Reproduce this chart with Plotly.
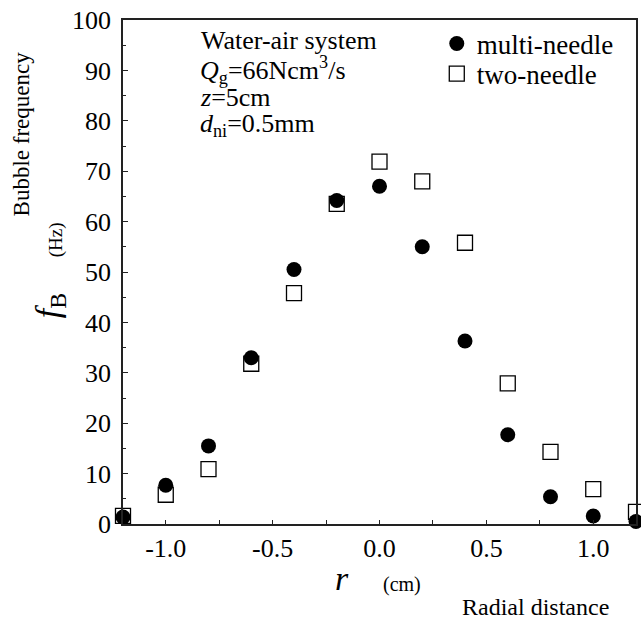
import plotly.graph_objects as go

# Radial positions (cm)
r_cm = [-1.2, -1.0, -0.8, -0.6, -0.4, -0.2, 0.0, 0.2, 0.4, 0.6, 0.8, 1.0, 1.2]

# Bubble frequency (Hz)
multi_needle = [1.4, 7.7, 15.5, 33.0, 50.5, 64.2, 67.0, 55.0, 36.3, 17.7, 5.4, 1.6, 0.5]
two_needle = [1.6, 5.8, 10.9, 31.8, 45.8, 63.5, 71.9, 68.0, 55.8, 27.9, 14.3, 6.9, 2.4]

x_tick_vals = [-1.0, -0.5, 0.0, 0.5, 1.0]
x_tick_text = ["-1.0", "-0.5", "0.0", "0.5", "1.0"]
y_tick_vals = [0, 10, 20, 30, 40, 50, 60, 70, 80, 90, 100]

SERIF = "Liberation Serif"
INK = "black"

W, H = 641, 619
L, R, T, B = 123, 3, 20, 95
pw, ph = W - L - R, H - T - B


def px(x, y):
    """Convert page pixel position to paper coordinates."""
    return (x - L) / pw, (H - B - y) / ph


fig = go.Figure()

# open squares first so the filled circles sit on top where they overlap
fig.add_trace(go.Scatter(
    x=r_cm, y=two_needle, mode="markers", name="two-needle",
    legend="legend2", cliponaxis=False,
    marker=dict(symbol="square", size=15, color="white",
                line=dict(color=INK, width=1.3)),
))
fig.add_trace(go.Scatter(
    x=r_cm, y=multi_needle, mode="markers", name="multi-needle",
    legend="legend", cliponaxis=False,
    marker=dict(symbol="circle", size=15, color=INK,
                line=dict(color=INK, width=0)),
))

axis_common = dict(
    showline=True, linecolor="#222", linewidth=1.5, mirror=True,
    showgrid=False, zeroline=False, ticks="inside", tickcolor="#222",
    tickfont=dict(family=SERIF, size=26, color=INK),
)

fig.update_xaxes(
    range=[-1.2, 1.2], tickmode="array", tickvals=x_tick_vals,
    ticktext=x_tick_text, ticklen=4, tickwidth=1, ticklabelstandoff=0,
    minor=dict(tick0=0, dtick=0.25, ticks="inside", ticklen=4,
               tickcolor="#222", tickwidth=1),
    **axis_common,
)
fig.update_yaxes(
    range=[0, 100], tickmode="array", tickvals=y_tick_vals,
    ticklen=5, tickwidth=1, ticklabelstandoff=5,
    minor=dict(tick0=0, dtick=5, ticks="inside", ticklen=3,
               tickcolor="#222", tickwidth=1),
    **axis_common,
)

annotations = []


def note(text, x, y, size, xanchor="left", angle=0, yanchor="middle"):
    xp, yp = px(x, y)
    annotations.append(dict(
        text=text, x=xp, y=yp, xref="paper", yref="paper",
        xanchor=xanchor, yanchor=yanchor, showarrow=False, textangle=angle,
        font=dict(family=SERIF, size=size, color=INK),
    ))


# experimental conditions
note("Water-air system", 199, 41, 26)
note("<i>Q</i><sub>g</sub>=66Ncm<sup>3</sup>/s", 198, 70, 26)
note("<i>z</i>=5cm", 198, 97, 26)
note("<i>d</i><sub>ni</sub>=0.5mm", 198, 125, 26)

# axis titles
note("Bubble frequency", 21, 134, 23, xanchor="center", angle=-90)
note("<i>f</i><sub>B</sub>", 50, 306, 34, xanchor="center", angle=-90)
note("(Hz)", 56, 240, 19, xanchor="center", angle=-90)
note("<i>r</i>", 343, 578, 34, xanchor="center")
note("(cm)", 403, 584, 20, xanchor="center")
note("Radial distance", 537, 607, 24, xanchor="center")

legend_font = dict(family=SERIF, size=27, color=INK)
l1x, l1y = px(438, 44)
l2x, l2y = px(438, 74)
fig.update_layout(
    width=W, height=H,
    margin=dict(l=L, r=R, t=T, b=B),
    paper_bgcolor="white", plot_bgcolor="white",
    showlegend=True,
    legend=dict(x=l1x, y=l1y, xanchor="left", yanchor="middle",
                bgcolor="rgba(0,0,0,0)", font=legend_font),
    legend2=dict(x=l2x, y=l2y, xanchor="left", yanchor="middle",
                 bgcolor="rgba(0,0,0,0)", font=legend_font),
    annotations=annotations,
)

fig.write_html("out.html")
